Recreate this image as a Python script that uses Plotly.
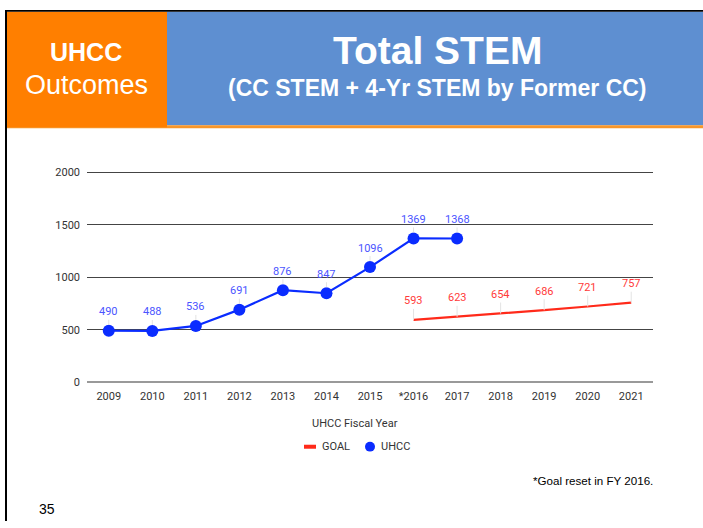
import plotly.graph_objects as go

years = ["2009", "2010", "2011", "2012", "2013", "2014", "2015", "*2016", "2017", "2018", "2019", "2020", "2021"]
uhcc_years = ["2009", "2010", "2011", "2012", "2013", "2014", "2015", "*2016", "2017"]
uhcc_values = [490, 488, 536, 691, 876, 847, 1096, 1369, 1368]
goal_years = ["*2016", "2017", "2018", "2019", "2020", "2021"]
goal_values = [593, 623, 654, 686, 721, 757]
y_ticks = [0, 500, 1000, 1500, 2000]

W, H = 703, 528
BLUE = "#0a2cff"
RED = "#ff2a1a"
BLUE_LBL = "#4b55ff"
RED_LBL = "#ff3b3b"
FONT = "Roboto, Arial, sans-serif"
HFONT = "Liberation Sans, Arial, sans-serif"

def px(x):
    return x / W

def py(y):
    return 1 - y / H

idx = {c: i for i, c in enumerate(years)}

fig = go.Figure()

fig.add_trace(go.Scatter(
    x=goal_years, y=goal_values, mode="lines", name="GOAL",
    line=dict(color=RED, width=2.2), showlegend=False,
))
fig.add_trace(go.Scatter(
    x=uhcc_years, y=uhcc_values, mode="lines+markers", name="UHCC",
    line=dict(color=BLUE, width=2.2),
    marker=dict(color=BLUE, size=12), showlegend=False,
))

annotations = []
for x, v in zip(uhcc_years, uhcc_values):
    annotations.append(dict(
        x=idx[x], y=v, xref="x", yref="y", text=str(v), showarrow=True,
        arrowhead=0, arrowwidth=1, arrowcolor="#e3e3e3", ax=0, ay=-19,
        xanchor="center", yanchor="middle",
        font=dict(family=FONT, size=11, color=BLUE_LBL), standoff=6,
    ))
for x, v in zip(goal_years, goal_values):
    annotations.append(dict(
        x=idx[x], y=v, xref="x", yref="y", text=str(v), showarrow=True,
        arrowhead=0, arrowwidth=1, arrowcolor="#e3e3e3", ax=0, ay=-19,
        xanchor="center", yanchor="middle",
        font=dict(family=FONT, size=11, color=RED_LBL), standoff=0,
    ))

# axis title
annotations.append(dict(
    x=px(355), y=py(428), xref="paper", yref="paper", text="UHCC Fiscal Year",
    showarrow=False, font=dict(family=FONT, size=11, color="#333333"),
    xanchor="center", yanchor="middle",
))
# legend (drawn)
annotations += [
    dict(x=px(320), y=py(452), xref="paper", yref="paper", text="GOAL",
         showarrow=False, font=dict(family=FONT, size=11, color="#333333"),
         xanchor="left", yanchor="middle"),
    dict(x=px(379), y=py(452), xref="paper", yref="paper", text="UHCC",
         showarrow=False, font=dict(family=FONT, size=11, color="#333333"),
         xanchor="left", yanchor="middle"),
]
# header texts
annotations += [
    dict(x=px(86), y=py(48), xref="paper", yref="paper", text="<b>UHCC</b>",
         showarrow=False, font=dict(family=HFONT, size=25, color="white"),
         xanchor="center", yanchor="middle"),
    dict(x=px(86), y=py(82), xref="paper", yref="paper", text="Outcomes",
         showarrow=False, font=dict(family=HFONT, size=27, color="white"),
         xanchor="center", yanchor="middle"),
    dict(x=px(437), y=py(47), xref="paper", yref="paper", text="<b>Total STEM</b>",
         showarrow=False, font=dict(family=HFONT, size=39, color="white"),
         xanchor="center", yanchor="middle"),
    dict(x=px(437), y=py(85), xref="paper", yref="paper",
         text="<b>(CC STEM + 4-Yr STEM by Former CC)</b>",
         showarrow=False, font=dict(family=HFONT, size=23, color="white"),
         xanchor="center", yanchor="middle"),
    dict(x=px(655), y=py(487), xref="paper", yref="paper",
         text="*Goal reset in FY 2016.",
         showarrow=False, font=dict(family=HFONT, size=11.6, color="black"),
         xanchor="right", yanchor="middle"),
    dict(x=px(47), y=py(516), xref="paper", yref="paper", text="35",
         showarrow=False, font=dict(family=HFONT, size=14, color="black"),
         xanchor="center", yanchor="middle"),
]

shapes = [
    # blue header
    dict(type="rect", xref="paper", yref="paper", x0=px(167), x1=1, y0=py(123), y1=py(7),
         fillcolor="#5e8fd1", line=dict(width=0), layer="below"),
    # orange underline
    dict(type="rect", xref="paper", yref="paper", x0=px(7), x1=1, y0=py(126), y1=py(123),
         fillcolor="#f7962a", line=dict(width=0), layer="below"),
    # orange box
    dict(type="rect", xref="paper", yref="paper", x0=px(7), x1=px(167), y0=py(125), y1=py(7),
         fillcolor="#ff7f00", line=dict(width=0), layer="below"),
    # black borders
    dict(type="rect", xref="paper", yref="paper", x0=px(5), x1=1, y0=py(7), y1=py(5),
         fillcolor="black", line=dict(width=0), layer="below"),
    dict(type="rect", xref="paper", yref="paper", x0=px(5), x1=px(7), y0=0, y1=py(5),
         fillcolor="black", line=dict(width=0), layer="below"),
    # legend symbols
    dict(type="line", xref="paper", yref="paper", x0=px(304), x1=px(316), y0=py(452), y1=py(452),
         line=dict(color=RED, width=4)),
    dict(type="circle", xref="paper", yref="paper", x0=px(365), x1=px(375), y0=py(457), y1=py(447),
         fillcolor=BLUE, line=dict(width=0)),
]

y_top_px = 171 - 10 * 215 / 2000
fig.update_layout(
    width=W, height=H,
    margin=dict(l=0, r=0, t=0, b=0),
    paper_bgcolor="white", plot_bgcolor="white",
    font=dict(family=FONT, size=11, color="#333333"),
    showlegend=False,
    xaxis=dict(
        domain=[px(87), px(653)], type="category", categoryorder="array",
        categoryarray=years, range=[-0.5, 12.5], showgrid=False, zeroline=False,
        showline=False, ticks="", tickfont=dict(family=FONT, size=11, color="#333333"),
        ticklabelstandoff=6,
    ),
    yaxis=dict(
        domain=[py(386), py(y_top_px)], range=[0, 2010], tickvals=y_ticks,
        showgrid=True, gridcolor="#444444", gridwidth=1.2, zeroline=True,
        zerolinecolor="#999999", zerolinewidth=2, showline=False, ticks="",
        tickfont=dict(family=FONT, size=11, color="#333333"), ticklabelstandoff=6,
    ),
    annotations=annotations,
    shapes=shapes,
)

post = (
    "document.documentElement.style.margin='0';"
    "document.documentElement.style.overflow='hidden';"
    "document.body.style.margin='0';"
    "document.body.style.overflow='hidden';"
    "var d=document.getElementById('{plot_id}');"
    "d.style.position='fixed';d.style.top='0px';d.style.left='0px';"
)
fig.write_html("out.html", config={"displayModeBar": False}, post_script=post)
